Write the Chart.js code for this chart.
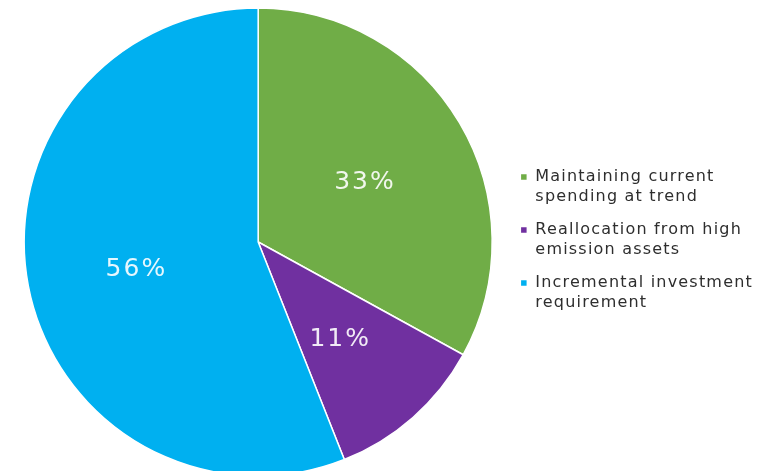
<!DOCTYPE html>
<html>
<head>
<meta charset="utf-8">
<script src="https://cdn.jsdelivr.net/npm/chart.js@4.4.1/dist/chart.umd.min.js"></script>
<style>
  html, body { margin: 0; padding: 0; background: #ffffff; }
  #wrap { width: 769px; height: 471px; }
</style>
</head>
<body>
<div id="wrap"><canvas id="Chart_PIE"></canvas></div>
<script>
// Répartition de l'investissement
const categories = [
    ['Maintaining current', 'spending at trend'],
    ['Reallocation from high', 'emission assets'],
    ['Incremental investment', 'requirement']
];
const shares = [33, 11, 56];
const couleurs = ['#70AD47', '#7030A0', '#00B0F0'];

// Espacement des lettres pour tout le canvas (remis à zéro à chaque redimensionnement)
const espacement = {
    id: 'espacement',
    beforeUpdate(chart) { chart.ctx.letterSpacing = '1.2px'; },
    beforeDraw(chart) { chart.ctx.letterSpacing = '1.2px'; }
};

// Pourcentages écrits au milieu de chaque part
const etiquettes = {
    id: 'etiquettes',
    afterDatasetsDraw(chart) {
        const ctx = chart.ctx;
        const meta = chart.getDatasetMeta(0);
        ctx.save();
        ctx.font = '25px "DejaVu Sans", Arial, sans-serif';
        ctx.letterSpacing = '2px';
        ctx.fillStyle = 'rgba(255, 255, 255, 0.9)';
        ctx.textAlign = 'center';
        ctx.textBaseline = 'middle';
        meta.data.forEach((arc, i) => {
            const p = arc.getProps(['x', 'y', 'startAngle', 'endAngle', 'outerRadius'], true);
            const milieu = (p.startAngle + p.endAngle) / 2;
            const r = p.outerRadius * 0.53;
            ctx.fillText(shares[i] + '%', p.x + Math.cos(milieu) * r, p.y + Math.sin(milieu) * r + 4);
        });
        ctx.restore();
    }
};

const PieChart = new Chart(document.getElementById('Chart_PIE').getContext('2d'), {
    type: 'pie',
    data: {
        labels: categories,
        datasets: [{
            data: shares,
            backgroundColor: couleurs,
            borderColor: '#ffffff',
            borderWidth: 1.5,
            radius: 234
        }]
    },
    options: {
        responsive: true,
        maintainAspectRatio: false,
        animation: false,
        layout: {
            padding: { left: 9, right: 6, top: 13, bottom: 0 }
        },
        plugins: {
            tooltip: { enabled: false },
            legend: {
                position: 'right',
                labels: {
                    boxWidth: 7,
                    boxHeight: 7,
                    padding: 13,
                    color: '#2e2e2e',
                    font: { family: '"DejaVu Sans", Arial, sans-serif', size: 16, lineHeight: 1.25 }
                }
            }
        }
    },
    plugins: [espacement, etiquettes]
});
</script>
</body>
</html>
